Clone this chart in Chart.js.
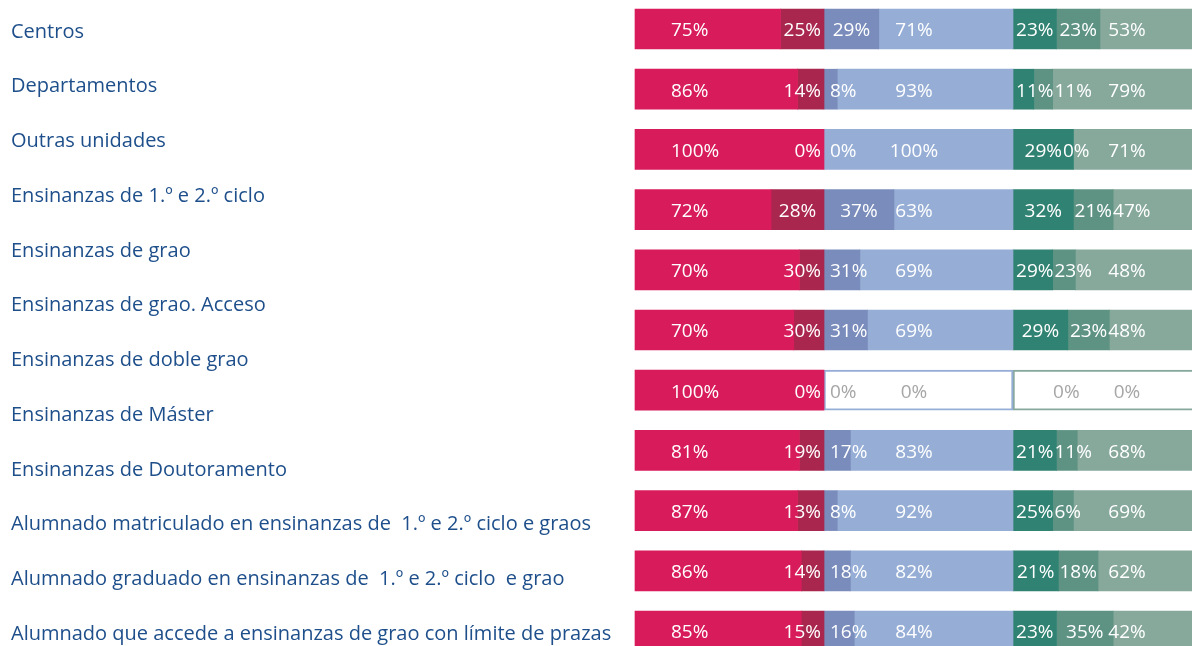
<!DOCTYPE html>
<html>
<head>
<meta charset="utf-8">
<script src="https://cdn.jsdelivr.net/npm/chart.js@4.4.1/dist/chart.umd.min.js"></script>
<style>
  html, body { margin: 0; padding: 0; background: #fff; }
  #wrap { width: 1192px; height: 646px; }
</style>
</head>
<body>
<div id="wrap"><canvas id="zeChart" width="1192" height="646"></canvas></div>
<script>
// row captions on the left
const rowLabels = [
    'Centros',
    'Departamentos',
    'Outras unidades',
    'Ensinanzas de 1.º e 2.º ciclo',
    'Ensinanzas de grao',
    'Ensinanzas de grao. Acceso',
    'Ensinanzas de doble grao',
    'Ensinanzas de Máster',
    'Ensinanzas de Doutoramento',
    'Alumnado matriculado en ensinanzas de  1.º e 2.º ciclo e graos',
    'Alumnado graduado en ensinanzas de  1.º e 2.º ciclo  e grao',
    'Alumnado que accede a ensinanzas de grao con límite de prazas'
];
// rows that actually have a bar
const barRows = [
    'Centros', 'Departamentos', 'Outras unidades', 'Ensinanzas de 1.º e 2.º ciclo',
    'Ensinanzas de grao', 'Ensinanzas de grao. Acceso', 'Ensinanzas de doble grao',
    'Ensinanzas de Máster', 'Alumnado matriculado', 'Alumnado graduado', 'Alumnado que accede'
];

// bar segment widths (% of each block) as drawn
const redA   = [77, 86, 100, 72, 87, 84, 100, 87, 86, 88, 88];
const redB   = [23, 14,   0, 28, 13, 16,   0, 13, 14, 12, 12];
const blueA  = [29,  7,   0, 37, 19, 23,   0, 14,  7, 14, 16];
const blueB  = [71, 93, 100, 63, 81, 77,   0, 86, 93, 86, 84];
const greenA = [23, 11,  32, 32, 21, 29,   0, 23, 21, 24, 23];
const greenB = [23, 10,   0, 21, 12, 22,   0, 11, 11, 21, 30];
const greenC = [54, 79,  68, 47, 67, 49,   0, 66, 68, 55, 47];

// percentages printed on the bars
const redAPct   = [75, 86, 100, 72, 70, 70, 100, 81, 87, 86, 85];
const redBPct   = [25, 14,   0, 28, 30, 30,   0, 19, 13, 14, 15];
const blueAPct  = [29,  8,   0, 37, 31, 31,   0, 17,  8, 18, 16];
const blueBPct  = [71, 93, 100, 63, 69, 69,   0, 83, 92, 82, 84];
const greenAPct = [23, 11,  29, 32, 29, 29, null, 21, 25, 21, 23];
const greenBPct = [23, 11,   0, 21, 23, 23,   0, 11,  6, 18, 35];
const greenCPct = [53, 79,  71, 47, 48, 48,   0, 68, 69, 62, 42];

const groups = [
    { bars: [redA, redB], pct: [redAPct, redBPct],
      colors: ['#d81b5b', '#a9264e'], box: null,
      place: [{ mode: 'left', dx: 36 }, { mode: 'center', maxRight: -3 }] },
    { bars: [blueA, blueB], pct: [blueAPct, blueBPct],
      colors: ['#798cbb', '#96aed6'], box: '#96aed6',
      place: [{ mode: 'center', minLeft: 6 }, { mode: 'fix', dx: 90 }] },
    { bars: [greenA, greenB, greenC], pct: [greenAPct, greenBPct, greenCPct],
      colors: ['#308272', '#5e9383', '#87a99c'], box: '#87a99c',
      place: [{ mode: 'center', minLeft: 3 }, { mode: 'center', minLeft: 40 }, { mode: 'fix', dx: 114 }] }
];

const datasets = [];
groups.forEach((grp, g) => {
    grp.bars.forEach((arr, k) => {
        datasets.push({
            data: arr.map((v, i) => {
                let start = g * 100;
                for (let j = 0; j < k; j++) start += grp.bars[j][i];
                return v ? [start, start + v] : null;
            }),
            backgroundColor: grp.colors[k],
            borderWidth: 0
        });
    });
    if (grp.box) {
        // empty block -> outlined box
        datasets.push({
            data: barRows.map((r, i) => grp.bars.every(a => !a[i]) ? [g * 100, g * 100 + 100] : null),
            backgroundColor: '#ffffff',
            borderColor: grp.box,
            borderWidth: 2,
            borderSkipped: false
        });
    }
});

const pctLabels = {
    id: 'pctLabels',
    afterDatasetsDraw(chart) {
        const ctx = chart.ctx;
        const xs = chart.scales.x, ys = chart.scales.y;
        ctx.save();
        ctx.font = '19px "Open Sans"';
        ctx.textBaseline = 'middle';
        ctx.textAlign = 'left';
        barRows.forEach((r, i) => {
            const y = ys.getPixelForValue(i) + 2;
            groups.forEach((grp, g) => {
                const gs = xs.getPixelForValue(g * 100);
                const ge = xs.getPixelForValue(g * 100 + 100);
                const empty = grp.bars.every(a => !a[i]);
                let cum = g * 100;
                let prevRight = -Infinity;
                grp.bars.forEach((arr, k) => {
                    const s = xs.getPixelForValue(cum);
                    cum += arr[i];
                    const e = xs.getPixelForValue(cum);
                    const v = grp.pct[k][i];
                    if (v === null) return;
                    const txt = v + '%';
                    const w = ctx.measureText(txt).width;
                    const p = grp.place[k];
                    let left;
                    if (p.mode === 'left') left = gs + p.dx;
                    else if (p.mode === 'fix') left = gs + p.dx - w / 2;
                    else left = (s + e) / 2 - w / 2;
                    if (p.minLeft !== undefined) left = Math.max(left, gs + p.minLeft);
                    if (p.maxRight !== undefined) left = Math.min(left, ge + p.maxRight - w);
                    left = Math.max(left, prevRight + 1);
                    ctx.fillStyle = empty ? '#a6a6a6' : '#ffffff';
                    ctx.fillText(txt, left, y);
                    prevRight = left + w;
                });
            });
        });
        ctx.restore();
    }
};

Chart.defaults.font.family = '"Open Sans"';

new Chart(document.getElementById('zeChart'), {
    type: 'bar',
    data: { labels: barRows, datasets: datasets },
    plugins: [pctLabels],
    options: {
        indexAxis: 'y',
        responsive: false,
        animation: false,
        layout: { padding: { left: 11, right: 0, top: 29, bottom: 15 } },
        datasets: { bar: { grouped: false, barThickness: 40, clip: false } },
        plugins: { legend: { display: false }, tooltip: { enabled: false } },
        scales: {
            x: { type: 'linear', min: 0, max: 294.7, display: false },
            y: { type: 'category', offset: false, display: false },
            yl: {
                type: 'category',
                labels: rowLabels,
                position: 'left',
                offset: false,
                grid: { display: false },
                border: { display: false },
                ticks: {
                    autoSkip: false,
                    crossAlign: 'far',
                    padding: 0,
                    labelOffset: 3,
                    color: '#1e4f8b',
                    font: { size: 20 }
                },
                afterFit: (scale) => { scale.width = 624; }
            }
        }
    }
});
</script>
</body>
</html>
